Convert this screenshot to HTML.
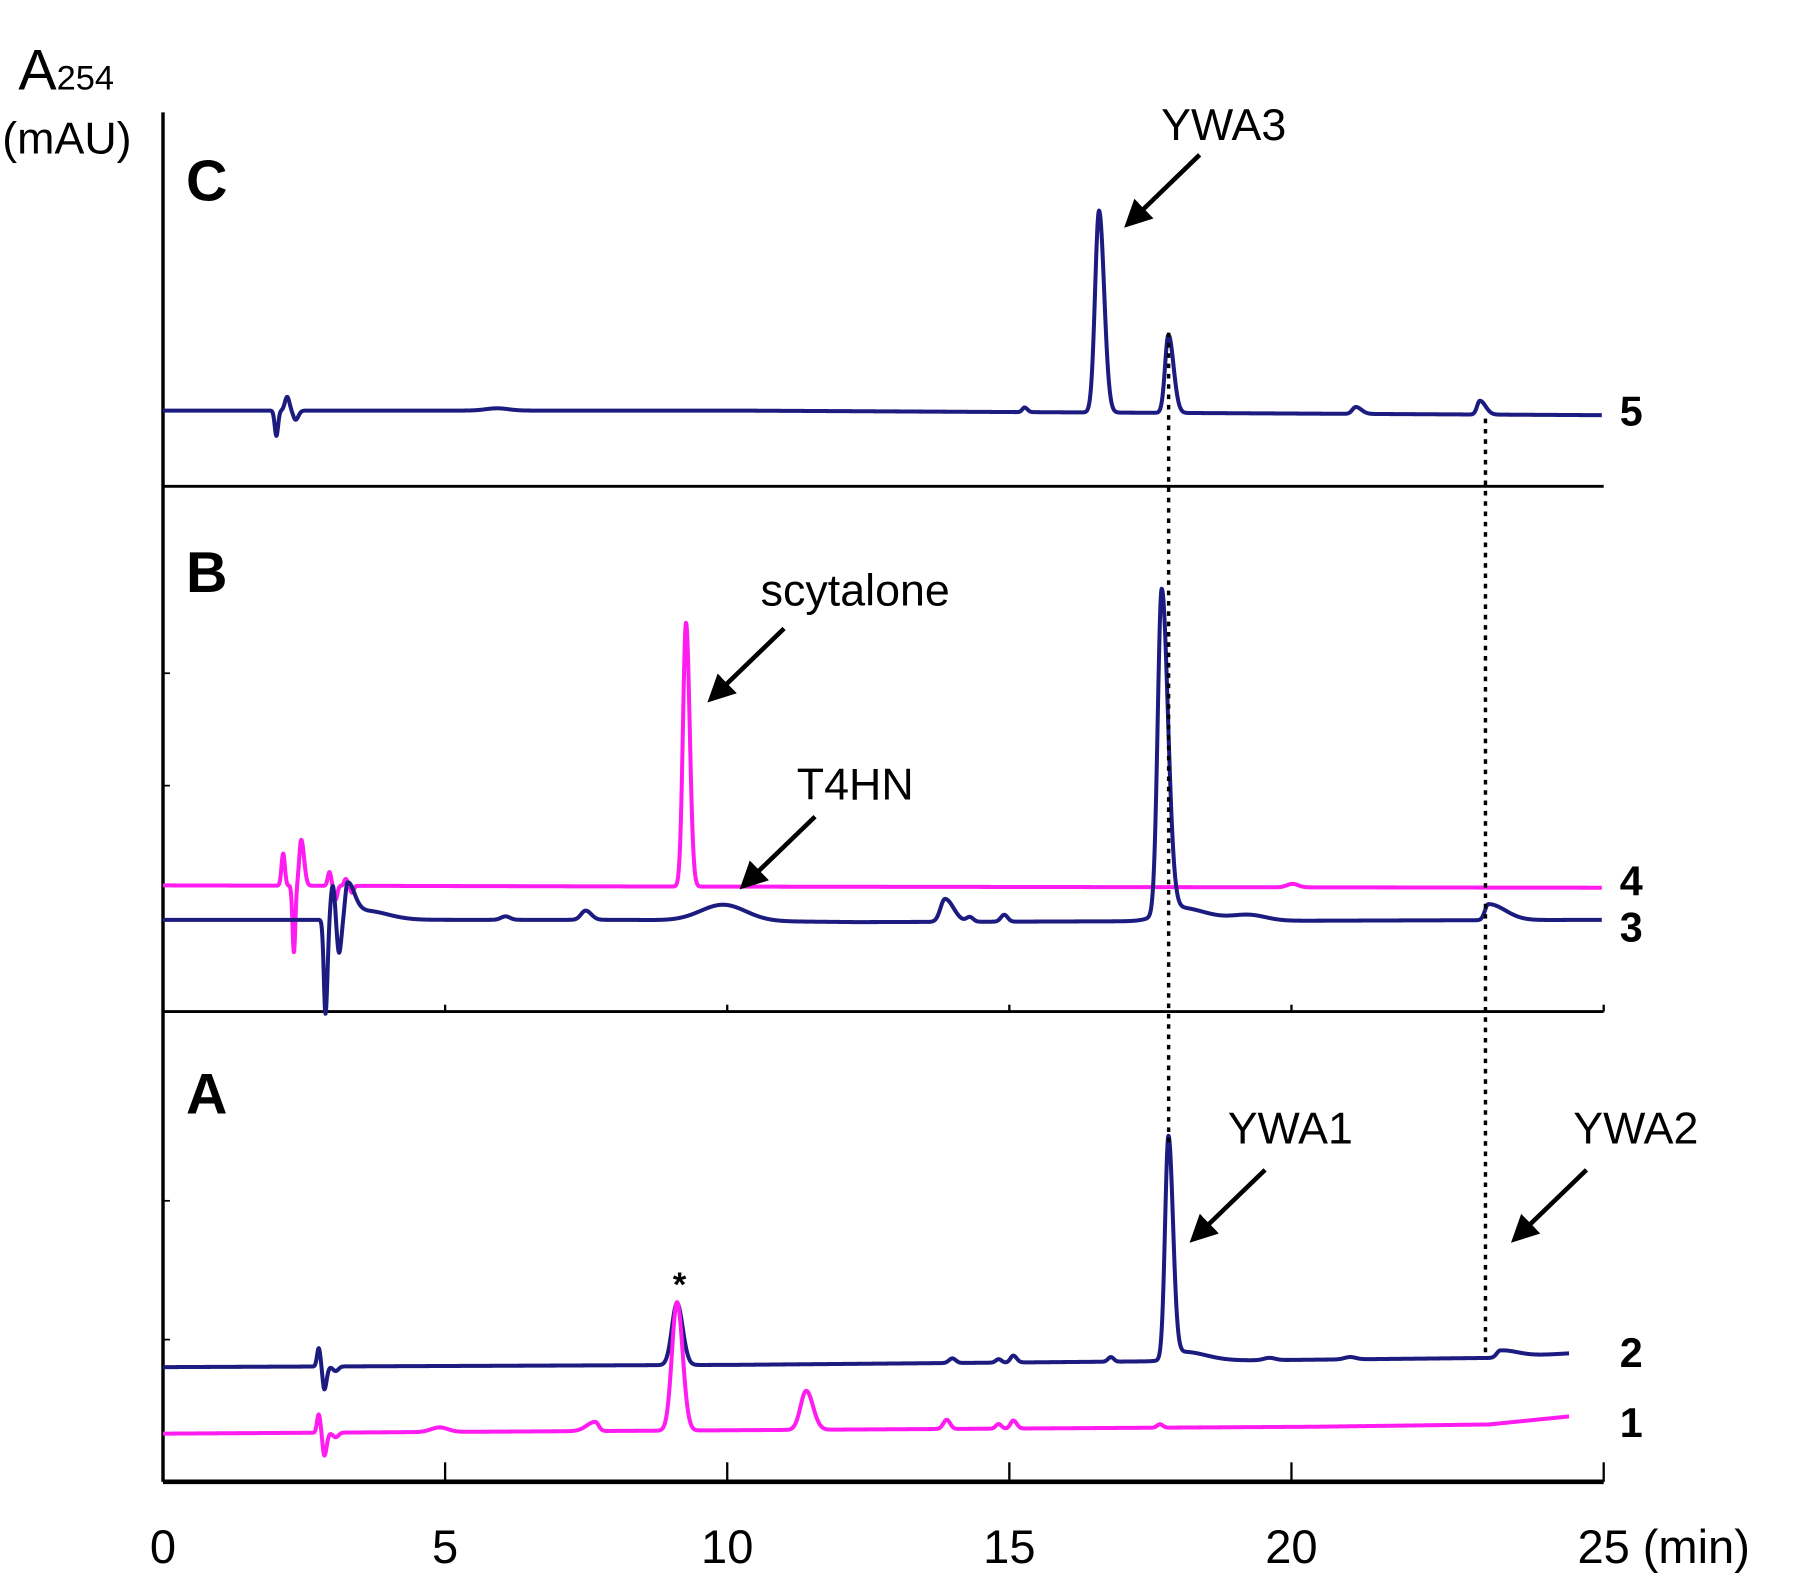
<!DOCTYPE html>
<html><head><meta charset="utf-8"><style>
html,body{margin:0;padding:0;background:#fff;}
svg{display:block;}
text{font-family:"Liberation Sans",Arial,sans-serif;}
</style></head><body>
<svg id="chart" width="1800" height="1577" viewBox="0 0 1568 1375" preserveAspectRatio="none" xmlns="http://www.w3.org/2000/svg">
<rect width="1568" height="1375" fill="#fff"/>
<g id="axes" stroke="#000" fill="none">
  <line x1="142" y1="98" x2="142" y2="1292" stroke-width="3"/>
  <line x1="142" y1="1292" x2="1397" y2="1292" stroke-width="4"/>
  <line x1="142" y1="424" x2="1397" y2="424" stroke-width="2.5"/>
  <line x1="142" y1="882" x2="1397" y2="882" stroke-width="2.5"/>
  <line x1="142" y1="587" x2="148" y2="587" stroke-width="1.5"/>
  <line x1="142" y1="685" x2="148" y2="685" stroke-width="1.5"/>
  <line x1="142" y1="1047" x2="148" y2="1047" stroke-width="1.5"/>
  <line x1="142" y1="1168" x2="148" y2="1168" stroke-width="1.5"/>
</g>
<g id="ticks"></g>
<g id="traces"></g>
<g stroke="#000" stroke-width="3" stroke-dasharray="4,5">
  <line x1="1018" y1="290" x2="1018" y2="1000"/>
  <line x1="1294" y1="365" x2="1294" y2="1180"/>
</g>
<defs><marker id="ah" markerWidth="6" markerHeight="6" refX="4" refY="3" orient="auto" markerUnits="strokeWidth"><path d="M0,0 L6,3 L0,6 z" fill="#000"/></marker></defs>
<g stroke="#000" stroke-width="4" marker-end="url(#ah)">
  <line x1="1045" y1="135" x2="985" y2="193"/>
  <line x1="683" y1="548" x2="622" y2="607"/>
  <line x1="710" y1="712" x2="650" y2="770"/>
  <line x1="1102" y1="1020" x2="1042" y2="1078"/>
  <line x1="1382" y1="1020" x2="1322" y2="1078"/>
</g>
<g fill="#000">
  <text x="16" y="78" font-size="50">A<tspan font-size="30">254</tspan></text>
  <text x="2" y="134" font-size="39">(mAU)</text>
  <text x="162" y="175" font-size="50" font-weight="bold">C</text>
  <text x="162" y="516" font-size="50" font-weight="bold">B</text>
  <text x="162" y="971" font-size="50" font-weight="bold">A</text>
  <text x="1066" y="122" font-size="39" text-anchor="middle">YWA3</text>
  <text x="745" y="528" font-size="39" text-anchor="middle">scytalone</text>
  <text x="745" y="697" font-size="39" text-anchor="middle">T4HN</text>
  <text x="1124" y="997" font-size="39" text-anchor="middle">YWA1</text>
  <text x="1425" y="997" font-size="39" text-anchor="middle">YWA2</text>
  <text x="592" y="1130" font-size="30" text-anchor="middle" font-weight="bold">*</text>
  <text x="1411" y="371" font-size="36" font-weight="bold">5</text>
  <text x="1411" y="781" font-size="36" font-weight="bold">4</text>
  <text x="1411" y="821" font-size="36" font-weight="bold">3</text>
  <text x="1411" y="1192" font-size="36" font-weight="bold">2</text>
  <text x="1411" y="1253" font-size="36" font-weight="bold">1</text>
  <text x="1431" y="1363" font-size="41">(min)</text>
</g>
</svg>
<script>
var xTicks = [0, 5, 10, 15, 20, 25];
var xTickLabels = ["0", "5", "10", "15", "20", "25"];
// peaks: [time (min), height (mAU), left width, right width]
var trace5Peaks = [[2.01,-22,.03,.03],[2.2,12,.04,.04],[2.35,-8,.04,.05],[5.92,2,.2,.2],[15.27,4,.04,.05],[16.59,176,.07,.09],[17.82,68,.06,.09],[21.14,6,.06,.1],[23.34,12,.05,.1]];
var trace5Base = [[0,62],[10.2,62],[25.5,58]];
var trace4Peaks = [[2.13,28,.03,.03],[2.32,-58,.025,.025],[2.45,40,.035,.05],[2.95,12,.03,.03],[3.06,-12,.03,.03],[3.24,6,.03,.03],[3.35,-6,.03,.03],[9.27,230,.055,.065],[20.02,3,.1,.1]];
var trace4Base = [[0,108],[9.2,107],[25.5,106]];
var trace3Peaks = [[2.88,-82,.03,.035],[3.01,30,.04,.04],[3.12,-30,.04,.04],[3.27,30,.04,.12],[3.57,8,.2,.4],[6.07,3,.08,.08],[7.49,8,.08,.1],[9.93,14,.4,.4],[13.86,20,.08,.15],[14.3,4,.06,.06],[14.91,6,.06,.06],[17.7,282,.07,.11],[17.98,12,.3,.5],[19.25,5,.3,.3],[23.49,14,.06,.3]];
var trace3Base = [[0,78],[8.2,78],[12.3,76],[25.5,78]];
var trace2Peaks = [[2.76,16,.03,.03],[2.86,-20,.03,.04],[3.06,-4,.05,.05],[9.11,54,.09,.1],[13.99,4,.06,.06],[14.81,3,.05,.05],[15.07,6,.05,.06],[16.8,4,.05,.05],[17.82,193,.06,.08],[18.08,8,.2,.4],[19.61,2,.1,.1],[21.04,2,.1,.1],[23.7,6,.06,.3]];
var trace2Base = [[0,98],[10.2,100],[17.4,103],[23.5,106],[24.92,110]];
var trace1Peaks = [[2.76,16,.03,.03],[2.86,-20,.03,.04],[3.06,-4,.05,.05],[4.9,4,.15,.15],[7.66,8,.15,.06],[9.11,112,.09,.1],[11.4,34,.1,.12],[13.89,8,.06,.06],[14.81,4,.05,.05],[15.07,7,.05,.06],[17.67,3,.05,.05]];
var trace1Base = [[0,40],[10.2,43],[20.4,46],[23.5,48],[24.92,55]];

var X0 = 142, PX_PER_MIN = 49.15, X_AXIS_END = 1397;
function xScale(t){ return Math.min(X_AXIS_END, X0 + t * PX_PER_MIN); }
function tickX(t, i){ return i === xTicks.length - 1 ? X_AXIS_END : xScale(t); }
var panelZero = {A:1290, B:880, C:420};
function yScale(panel, v){ return panelZero[panel] - v; }

var NS = "http://www.w3.org/2000/svg";
var tg = document.getElementById('ticks');
for (var i = 0; i < xTicks.length; i++) {
  var x = tickX(xTicks[i], i);
  var specs = [[1292,17],[882,6]];
  for (var k = 0; k < specs.length; k++) {
    var l = document.createElementNS(NS,'line');
    
    
    l.setAttribute('x1',x); l.setAttribute('x2',x);
    l.setAttribute('y1',specs[k][0]); l.setAttribute('y2',specs[k][0]-specs[k][1]);
    l.setAttribute('stroke','#000'); l.setAttribute('stroke-width','2');
    tg.appendChild(l);
  }
  var tx = document.createElementNS(NS,'text');
  
  
  tx.setAttribute('x', x); tx.setAttribute('y',1363);
  tx.setAttribute('font-size','41');
  tx.setAttribute('text-anchor', 'middle');
  tx.textContent = xTickLabels[i];
  tg.appendChild(tx);
}

function baseAt(base,t){
  for(var i=0;i<base.length-1;i++){
    if(t>=base[i][0] && t<=base[i+1][0]){
      var f=(t-base[i][0])/(base[i+1][0]-base[i][0]);
      return base[i][1]+f*(base[i+1][1]-base[i][1]);
    }
  }
  return base[base.length-1][1];
}
function signal(peaks,base,t){
  var v = baseAt(base,t);
  for (var j=0;j<peaks.length;j++){
    var p = peaks[j];
    var w = t<p[0]?p[2]:p[3];
    var z = (t-p[0])/w;
    v += p[1]*Math.exp(-0.5*z*z);
  }
  return v;
}
var trg = document.getElementById('traces');
function drawTrace(name, panel, peaks, base, color){
  var d='';
  var tEnd = base[base.length-1][0];
  var n = Math.round(tEnd/0.005);
  for(var s=0;s<=n;s++){
    var t = s*0.005;
    var px=xScale(t), py=yScale(panel, signal(peaks,base,t));
    d += (d?'L':'M')+px.toFixed(2)+','+py.toFixed(2);
  }
  var p=document.createElementNS(NS,'path');
  
  
  p.setAttribute('d',d); p.setAttribute('fill','none');
  p.setAttribute('stroke',color); p.setAttribute('stroke-width','3.5');
  p.setAttribute('stroke-linejoin','round');
  trg.appendChild(p);
}
drawTrace('trace-5','C',trace5Peaks,trace5Base,'#1b1b80');
drawTrace('trace-4','B',trace4Peaks,trace4Base,'#ff1cf0');
drawTrace('trace-3','B',trace3Peaks,trace3Base,'#1b1b80');
drawTrace('trace-2','A',trace2Peaks,trace2Base,'#1b1b80');
drawTrace('trace-1','A',trace1Peaks,trace1Base,'#ff1cf0');
</script>
</body></html>
